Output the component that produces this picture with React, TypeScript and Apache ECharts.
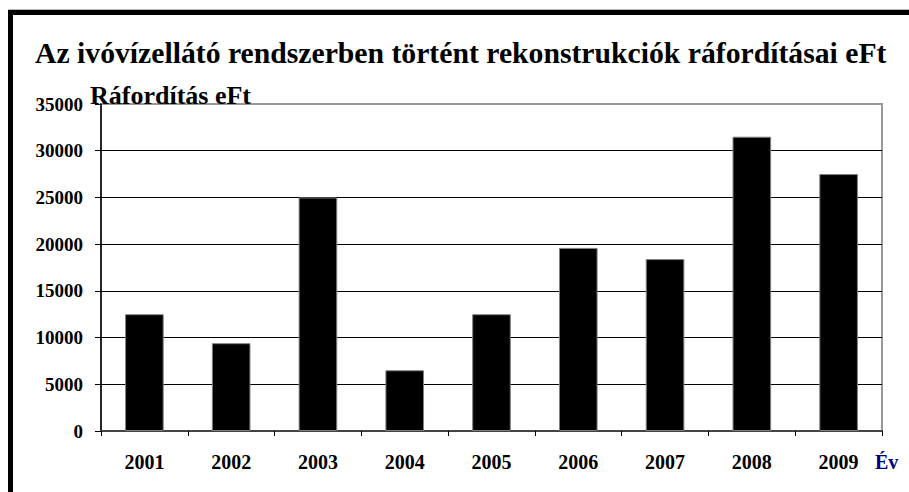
import React, { useEffect, useRef } from "react";
import * as echarts from "echarts";

const years = ["2001", "2002", "2003", "2004", "2005", "2006", "2007", "2008", "2009"];
const costs = [12500, 9400, 25000, 6500, 12500, 19600, 18400, 31500, 27500];
const titleText = "Az ivóvízellátó rendszerben történt rekonstrukciók ráfordításai eFt";
const yName = "Ráfordítás eFt";
const xName = "Év";

const FONT = "Liberation Serif";

export default function App() {
  const ref = useRef<HTMLDivElement>(null);
  useEffect(() => {
    if (!ref.current) return;
    const chart = echarts.init(ref.current, null, { renderer: "svg" });
    chart.setOption({
      animation: false,
      backgroundColor: "#fff",
      title: {
        text: titleText,
        left: 30,
        top: 33,
        textStyle: { fontFamily: FONT, fontWeight: "bold", fontSize: 29.7, color: "#000" },
      },
      graphic: [
        {
          type: "line",
          shape: { x1: 8, y1: 9.5, x2: 909, y2: 9.5 },
          style: { stroke: "#bbb", lineWidth: 1 },
          silent: true,
        },
        {
          type: "rect",
          shape: { x: 10.5, y: 12.5, width: 1000, height: 1000 },
          style: { fill: "none", stroke: "#000", lineWidth: 5 },
          silent: true,
        },
      ],
      grid: {
        left: 101,
        right: 27,
        top: 104,
        bottom: 61,
        show: true,
        borderColor: "#999",
        borderWidth: 2,
        backgroundColor: "transparent",
      },
      xAxis: {
        type: "category",
        data: years,
        boundaryGap: true,
        name: xName,
        nameLocation: "end",
        nameGap: -7,
        nameTextStyle: {
          fontFamily: FONT,
          fontWeight: "bold",
          fontSize: 20,
          color: "#000080",
          align: "left",
          verticalAlign: "top",
          padding: [21, 0, 0, 0],
        },
        axisLine: { show: true, lineStyle: { color: "#444", width: 2 } },
        axisTick: { show: true, length: 5, lineStyle: { color: "#000" }, alignWithLabel: false },
        axisLabel: {
          fontFamily: FONT,
          fontWeight: "bold",
          fontSize: 20,
          color: "#000",
          margin: 21,
        },
      },
      yAxis: {
        type: "value",
        min: 0,
        max: 35000,
        interval: 5000,
        name: yName,
        nameLocation: "end",
        nameGap: 0,
        nameTextStyle: {
          fontFamily: FONT,
          fontWeight: "bold",
          fontSize: 26,
          color: "#000",
          align: "left",
          verticalAlign: "bottom",
          padding: [0, 0, -4, -11],
        },
        axisLine: { show: true, lineStyle: { color: "#000", width: 1.5 } },
        axisTick: { show: true, length: 6, lineStyle: { color: "#000" } },
        axisLabel: {
          fontFamily: FONT,
          fontWeight: "bold",
          fontSize: 19,
          color: "#000",
          margin: 18,
          formatter: (v: number) => String(v),
        },
        splitLine: {
          show: true,
          lineStyle: {
            color: ["#000", "#000", "#000", "#000", "#000", "#000", "#000", "#999"],
            width: 1,
          },
        },
      },
      series: [
        {
          type: "bar",
          data: costs,
          barWidth: "44.5%",
          itemStyle: { color: "#000", borderColor: "#808080", borderWidth: 1 },
        },
      ],
    });
    return () => chart.dispose();
  }, []);
  return (
    <div
      ref={ref}
      style={{ position: "absolute", left: 0, top: 0, width: 909, height: 492 }}
    />
  );
}
